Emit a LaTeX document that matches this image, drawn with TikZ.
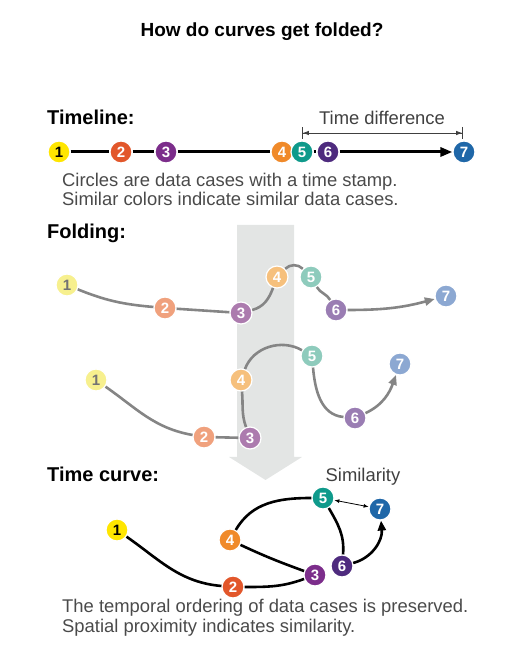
\documentclass[tikz,border=0pt]{standalone}
\usepackage{fontspec}
\setmainfont{Liberation Sans}
\usetikzlibrary{arrows.meta}

% saturated colours (timeline and time curve)
\definecolor{cyel}{HTML}{FFE600}
\definecolor{cred}{HTML}{E2572B}
\definecolor{cpur}{HTML}{7C2D8B}
\definecolor{corg}{HTML}{F08A2A}
\definecolor{ctea}{HTML}{0F9A8B}
\definecolor{cvio}{HTML}{4E2B7E}
\definecolor{cblu}{HTML}{1F67A8}
% faded colours (folding)
\definecolor{lyel}{HTML}{F7F08E}
\definecolor{lred}{HTML}{F0A17D}
\definecolor{lpur}{HTML}{AC7BAE}
\definecolor{lorg}{HTML}{F6C07C}
\definecolor{ltea}{HTML}{8ECBBC}
\definecolor{lvio}{HTML}{9A7DB3}
\definecolor{lblu}{HTML}{8CA8D2}
\definecolor{bandgray}{HTML}{E3E5E4}
\definecolor{curvegray}{HTML}{858585}
\definecolor{txtgray}{HTML}{4A4A4A}

\begin{document}
\begin{tikzpicture}[
  x=1pt,y=1pt,
  num/.style={circle,draw=white,line width=1.2pt,minimum size=22pt,inner sep=0pt,
    font=\fontsize{15}{15}\selectfont\bfseries,text=white},
  hdr/.style={font=\fontsize{20}{22}\selectfont\bfseries,anchor=base west,inner sep=0pt},
  txt/.style={font=\fontsize{18.4}{20}\selectfont,text=txtgray,anchor=base west,inner sep=0pt},
  tline/.style={line width=3pt,draw=black},
  fold/.style={line width=2.6pt,draw=curvegray},
  tcurve/.style={line width=2.6pt,draw=black}
]
\useasboundingbox (0,0) rectangle (523,655);

% folding band with arrow head
\fill[bandgray] (237,430) -- (294,430) -- (294,198) -- (302,198) -- (265.5,175)
  -- (229,198) -- (237,198) -- cycle;

\node[font=\fontsize{19}{22}\selectfont\bfseries,anchor=base] (title) at (262,618) {How do curves get folded?};

% timeline
\node[hdr] (hline) at (47,530) {Timeline:};
\node[num,fill=cyel,text=black] (tl1) at (59,503) {1};
\node[num,fill=cred] (tl2) at (121,503) {2};
\node[num,fill=cpur] (tl3) at (166,503) {3};
\node[num,fill=corg] (tl4) at (282,503) {4};
\node[num,fill=ctea] (tl5) at (302,503) {5};
\node[num,fill=cvio] (tl6) at (328,503) {6};
\node[num,fill=cblu] (tl7) at (464,503) {7};
\draw[tline] (tl1) -- (tl2) (tl2) -- (tl3) (tl3) -- (tl4) (tl5) -- (tl6);
\draw[tline,-{Triangle[length=12pt,width=9pt]}] (tl6) -- (tl7);

\node[txt,anchor=base,text=black!75] (tdiff) at (382,530) {Time difference};
\coordinate (tdl) at (302,522);
\coordinate (tdr) at (463,522);
\draw[line width=0.8pt,black!75,{Bar[width=12pt]Latex[length=6pt,width=4.5pt]}-{Latex[length=6pt,width=4.5pt]Bar[width=12pt]}] (tdl) -- (tdr);

\node[txt] (cap1) at (62,468) {Circles are data cases with a time stamp.};
\node[txt] (cap2) at (62,449) {Similar colors indicate similar data cases.};

% folding
\node[hdr] (hfold) at (47,416) {Folding:};
\node[num,fill=lyel,text=black!55] (fa1) at (67,370) {1};
\node[num,fill=lred] (fa2) at (165,347) {2};
\node[num,fill=lpur] (fa3) at (241,342) {3};
\node[num,fill=lorg] (fa4) at (277,378) {4};
\node[num,fill=ltea] (fa5) at (311,378) {5};
\node[num,fill=lvio] (fa6) at (336,345) {6};
\node[num,fill=lblu] (fa7) at (446,359) {7};
\draw[fold] (fa1) to[out=-22,in=175] (fa2);
\draw[fold] (fa2) -- (fa3);
\draw[fold] (fa3) to[out=15,in=-110] (fa4);
\draw[fold] (fa4) to[out=45,in=135] (fa5);
\draw[fold] (fa5) to[out=-60,in=120] (fa6);
\draw[fold,-{Triangle[length=10pt,width=8pt]}] (fa6) to[out=0,in=195] (fa7);

\node[num,fill=lyel,text=black!55] (fb1) at (96,275) {1};
\node[num,fill=lred] (fb2) at (204,218) {2};
\node[num,fill=lpur] (fb3) at (250,217) {3};
\node[num,fill=lorg] (fb4) at (241,275) {4};
\node[num,fill=ltea] (fb5) at (312,299) {5};
\node[num,fill=lvio] (fb6) at (355,237) {6};
\node[num,fill=lblu] (fb7) at (400,291) {7};
\draw[fold] (fb1) to[out=-35,in=170] (fb2);
\draw[fold] (fb2) -- (fb3);
\draw[fold] (fb3) to[out=110,in=-85] (fb4);
\draw[fold] (fb4) to[out=70,in=150] (fb5);
\draw[fold] (fb5) to[out=-85,in=175] (fb6);
\draw[fold,-{Triangle[length=10pt,width=8pt]}] (fb6) to[out=25,in=-110] (fb7);

% time curve
\node[hdr] (hcurve) at (47,173) {Time curve:};
\node[txt,anchor=base,text=black!75] (simil) at (363,173) {Similarity};
\node[num,fill=cyel,text=black] (tc1) at (117,125) {1};
\node[num,fill=cred] (tc2) at (233,68) {2};
\node[num,fill=cpur] (tc3) at (315,80) {3};
\node[num,fill=corg] (tc4) at (230,115) {4};
\node[num,fill=ctea] (tc5) at (323,157) {5};
\node[num,fill=cvio] (tc6) at (342,89) {6};
\node[num,fill=cblu] (tc7) at (380,146) {7};
\draw[tcurve] (tc1) to[out=-35,in=175] (tc2);
\draw[tcurve] (tc2) to[out=0,in=200] (tc3);
\draw[tcurve] (tc3) to[out=160,in=-25] (tc4);
\draw[tcurve] (tc4) to[out=60,in=180] (tc5);
\draw[tcurve] (tc5) to[out=-60,in=85] (tc6);
\draw[tcurve,-{Triangle[length=10pt,width=8pt]}] (tc6) to[out=15,in=-85] (tc7);
\draw[line width=0.8pt,{Latex[length=5pt,width=4pt]}-{Latex[length=5pt,width=4pt]}] (tc5) -- (tc7);

\node[txt] (cap3) at (62,42) {The temporal ordering of data cases is preserved.};
\node[txt] (cap4) at (62,22) {Spatial proximity indicates similarity.};

\end{tikzpicture}
\end{document}
